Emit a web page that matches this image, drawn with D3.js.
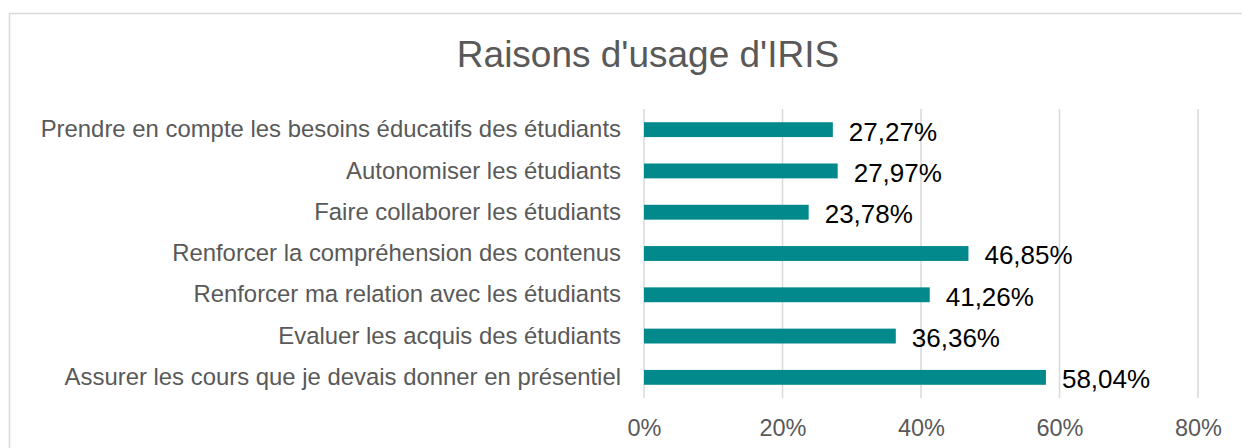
<!DOCTYPE html>
<html>
<head>
<meta charset="utf-8">
<script src="https://cdn.jsdelivr.net/npm/d3@7"></script>
<style>
  body { margin: 0; background: #fff; }
  svg { display: block; font-family: "Liberation Sans", Arial, sans-serif; }
</style>
</head>
<body>
<div id="wrapper"></div>
<script>
const categories = [
  "Prendre en compte les besoins éducatifs des étudiants",
  "Autonomiser les étudiants",
  "Faire collaborer les étudiants",
  "Renforcer la compréhension des contenus",
  "Renforcer ma relation avec les étudiants",
  "Evaluer les acquis des étudiants",
  "Assurer les cours que je devais donner en présentiel"
]
const values = [27.27, 27.97, 23.78, 46.85, 41.26, 36.36, 58.04]
const xTicks = [0, 20, 40, 60, 80]
const title = "Raisons d'usage d'IRIS"

function drawBars() {
  const dataset = categories.map((c, i) => ({ category: c, value: values[i] }))

  // dimensions
  let dimensions = {
    width: 1242,
    height: 448,
    margin: { top: 109, right: 44, bottom: 50, left: 644 },
  }
  dimensions.boundedWidth = dimensions.width - dimensions.margin.left - dimensions.margin.right
  dimensions.boundedHeight = dimensions.height - dimensions.margin.top - dimensions.margin.bottom

  const wrapper = d3.select("#wrapper")
    .append("svg")
      .attr("width", dimensions.width)
      .attr("height", dimensions.height)

  // chart frame
  wrapper.append("rect")
      .attr("x", 9.5)
      .attr("y", 13.5)
      .attr("width", dimensions.width + 20)
      .attr("height", dimensions.height + 20)
      .attr("fill", "none")
      .attr("stroke", "#d9d9d9")
      .attr("stroke-width", 1.5)

  wrapper.append("text")
      .attr("x", 648)
      .attr("y", 67)
      .attr("text-anchor", "middle")
      .attr("fill", "#595959")
      .style("font-size", "37px")
      .text(title)

  const bounds = wrapper.append("g")
      .attr("transform", `translate(${dimensions.margin.left}, ${dimensions.margin.top})`)

  const xScale = d3.scaleLinear()
    .domain([0, 80])
    .range([0, dimensions.boundedWidth])

  const yScale = d3.scaleBand()
    .domain(categories)
    .range([0, dimensions.boundedHeight])
    .paddingInner(0.64)
    .paddingOuter(0.32)

  // gridlines
  bounds.append("g")
    .selectAll("line")
    .data(xTicks)
    .join("line")
      .attr("x1", d => xScale(d))
      .attr("x2", d => xScale(d))
      .attr("y1", 0)
      .attr("y2", dimensions.boundedHeight)
      .attr("stroke", "#d9d9d9")
      .attr("stroke-width", 1.5)

  // bars
  bounds.append("g")
    .selectAll("rect")
    .data(dataset)
    .join("rect")
      .attr("x", xScale(0))
      .attr("y", d => yScale(d.category))
      .attr("width", d => xScale(d.value) - xScale(0))
      .attr("height", yScale.bandwidth())
      .attr("fill", "#01898b")

  // value labels
  const fmt = d => d3.format(".2f")(d).replace(".", ",") + "%"
  bounds.append("g")
    .selectAll("text")
    .data(dataset)
    .join("text")
      .attr("x", d => xScale(d.value) + 16)
      .attr("y", d => yScale(d.category) + yScale.bandwidth() / 2)
      .attr("dy", "0.42em")
      .attr("fill", "#000")
      .style("font-size", "26px")
      .text(d => fmt(d.value))

  // category axis
  const yAxis = bounds.append("g")
    .call(d3.axisLeft(yScale).tickSize(0).tickPadding(23))
  yAxis.select(".domain").remove()
  yAxis.selectAll("text")
      .attr("fill", "#595959")
      .style("font-size", "23.9px")
      .style("font-family", "Liberation Sans, Arial, sans-serif")

  // value axis
  const xAxis = bounds.append("g")
      .attr("transform", `translate(0, ${dimensions.boundedHeight})`)
    .call(d3.axisBottom(xScale).tickValues(xTicks).tickFormat(d => d + "%").tickSize(0).tickPadding(21))
  xAxis.select(".domain").remove()
  xAxis.selectAll("text")
      .attr("fill", "#595959")
      .style("font-size", "23.5px")
      .style("font-family", "Liberation Sans, Arial, sans-serif")
}
drawBars()
</script>
</body>
</html>
